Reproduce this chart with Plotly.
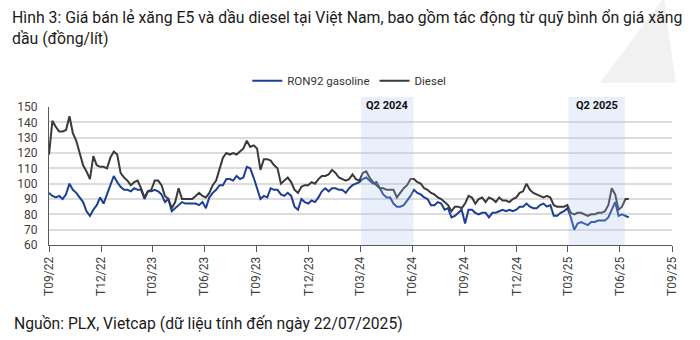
import pandas as pd
import plotly.graph_objects as go

# ---- data (one reading every 6 days) ----
start_date = "2022-09-30"
step = "6D"

ron92 = [
    94, 92, 91, 92, 90, 93, 100, 96, 94, 91, 88, 82, 79, 83, 86, 91, 87, 93, 99, 105,
    101, 98, 96, 96, 95, 97, 96, 96, 90, 95, 95, 96, 95, 93, 88, 90, 82, 84, 86, 88,
    87, 87, 87, 87, 86, 88,
    84, 91, 94, 96, 99, 99, 103, 103, 102, 105, 103, 104, 111, 110, 104, 97, 90, 92, 91, 97,
    96, 96, 93, 92, 94, 92, 85, 83, 90, 88, 87, 89, 88, 91, 95, 97, 95, 97, 97, 96,
    96, 94, 97, 99, 100,
    101, 103, 104, 102, 100, 101, 97, 93, 91, 91, 87, 85, 85, 86, 89, 92, 96, 94, 93, 91,
    90, 86, 86, 88, 87, 83, 84, 78, 79, 81, 83, 74, 83, 83, 81, 80, 81, 81, 78, 81,
    81, 82, 83, 82, 83,
    82, 83, 85, 85, 87, 85, 84, 84, 86, 87, 85, 86, 79, 79, 81, 82, 84, 78, 70, 74,
    75, 74, 73, 75, 75, 76, 76, 76, 78, 83, 88, 79, 80, 79, 78,
]

diesel = [
    119, 141, 137, 134, 134, 135, 144, 133, 128, 120, 112, 108, 103, 118, 112, 111, 111, 110, 117, 121,
    119, 107, 104, 102, 99, 101, 102, 97, 91, 95, 96, 102, 102, 99, 92, 90, 84, 88, 97, 90,
    90, 90, 90, 92, 94, 92,
    91, 94, 99, 102, 109, 117, 120, 119, 120, 119, 121, 123, 128, 124, 125, 123, 109, 116, 116, 115,
    112, 110, 100, 102, 104, 101, 96, 94, 98, 99, 99, 101, 100, 103, 105, 105, 106, 109, 107, 104,
    103, 102, 103, 106, 103,
    102, 107, 108, 104, 101, 99, 97, 97, 96, 96, 96, 91, 94, 97, 99, 103, 103, 101, 100, 97,
    96, 94, 93, 91, 90, 88, 86, 82, 85, 85, 84, 87, 92, 91, 87, 90, 91, 88, 91, 90,
    88, 91, 89, 89, 88,
    90, 91, 94, 95, 100, 96, 94, 93, 92, 91, 92, 91, 86, 85, 85, 85, 86, 81, 80, 81,
    81, 80, 79, 80, 80, 81, 81, 82, 86, 97, 93, 83, 85, 90, 90,
]

dates = pd.date_range(start=start_date, periods=len(ron92), freq=step)

tick_dates = ["2022-09-30", "2022-12-31", "2023-03-31", "2023-06-30", "2023-09-30",
              "2023-12-31", "2024-03-31", "2024-06-30", "2024-09-30", "2024-12-31",
              "2025-03-31", "2025-06-30", "2025-09-30"]
tick_labels = ["T09/22", "T12/22", "T03/23", "T06/23", "T09/23", "T12/23", "T03/24",
               "T06/24", "T09/24", "T12/24", "T03/25", "T06/25", "T09/25"]

highlights = [("Q2 2024", "2024-04-01", "2024-07-02"),
              ("Q2 2025", "2025-04-01", "2025-07-09")]

series_names = ["RON92 gasoline", "Diesel"]
series_colors = ["#1B3F97", "#3A3A3A"]

title_lines = ["Hình 3: Giá bán lẻ xăng E5 và dầu diesel tại Việt Nam, bao gồm tác động từ quỹ bình ổn giá xăng",
               "dầu (đồng/lít)"]
source_text = "Nguồn: PLX, Vietcap (dữ liệu tính đến ngày 22/07/2025)"

FONT = "Roboto"

fig = go.Figure()
for name, vals, col in zip(series_names, [ron92, diesel], series_colors):
    fig.add_trace(go.Scatter(x=dates, y=vals, mode="lines", name=name,
                             line=dict(color=col, width=2)))

for label, x0, x1 in highlights:
    fig.add_shape(type="rect", xref="x", yref="paper", x0=x0, x1=x1, y0=0, y1=1.072,
                  fillcolor="rgba(167,195,243,0.25)", line_width=0, layer="above")
    mid = pd.Timestamp(x0) + (pd.Timestamp(x1) - pd.Timestamp(x0)) / 2
    fig.add_annotation(x=mid, xref="x", yref="paper", y=1.01, text="<b>" + label + "</b>",
                       showarrow=False, font=dict(family=FONT, size=11, color="#111111"),
                       xanchor="center", yanchor="middle")

# faint watermark triangle in the top right corner
fig.add_shape(type="path", xref="paper", yref="paper",
              path="M 0.884 1.176 L 1.006 1.176 L 0.987 1.79 Z",
              fillcolor="#F1F1F1", line_width=0, layer="below")

# title (two lines) and source note
for txt, yy in zip(title_lines, [1.645, 1.493]):
    fig.add_annotation(xref="paper", yref="paper", x=-0.062, y=yy, text=txt,
                       showarrow=False, xanchor="left", yanchor="middle",
                       font=dict(family=FONT, size=15.8, color="#1a1a1a"))

fig.add_annotation(xref="paper", yref="paper", x=-0.060, y=-0.57, text=source_text,
                   showarrow=False, xanchor="left", yanchor="middle",
                   font=dict(family=FONT, size=15.7, color="#1a1a1a"))

fig.update_layout(
    width=700, height=340,
    margin=dict(l=49, r=28, t=107, b=95),
    paper_bgcolor="white", plot_bgcolor="white",
    showlegend=True,
    legend=dict(orientation="h", x=0.482, xanchor="center", y=1.19, yanchor="middle",
                font=dict(family=FONT, size=11.5, color="#333333"),
                bgcolor="rgba(0,0,0,0)"),
    font=dict(family=FONT, color="#404040"),
)

fig.update_xaxes(type="date", range=[tick_dates[0], tick_dates[-1]],
                 tickmode="array", tickvals=tick_dates, ticktext=tick_labels,
                 tickangle=-90, ticks="outside", ticklen=6, tickcolor="#595959",
                 showline=True, linecolor="#595959", linewidth=1,
                 showgrid=False, zeroline=False,
                 tickfont=dict(family=FONT, size=12, color="#404040"))

fig.update_yaxes(range=[60, 150], dtick=10, tick0=60,
                 showline=True, linecolor="#595959", linewidth=1,
                 showgrid=True, gridcolor="#DCDCDC", gridwidth=1.5,
                 zeroline=False, ticks="", ticklabelstandoff=8,
                 tickfont=dict(family=FONT, size=12, color="#404040"))

fig.write_html("out.html")
